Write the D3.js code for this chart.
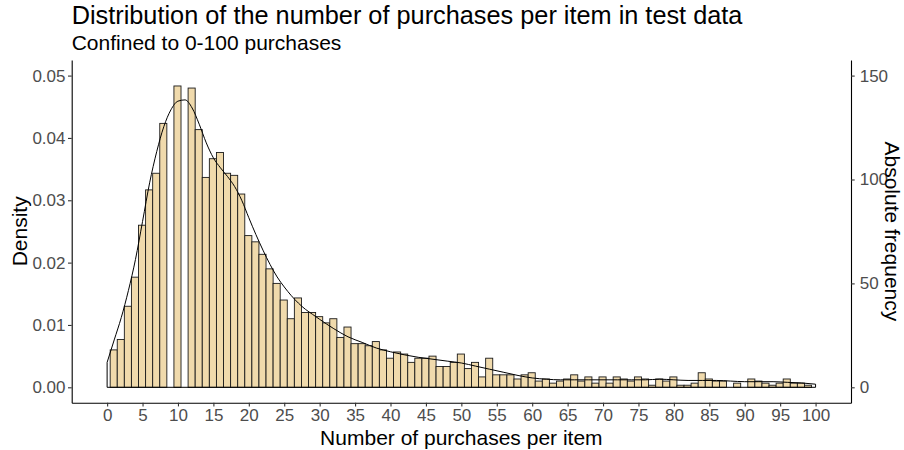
<!DOCTYPE html>
<html>
<head>
<meta charset="utf-8">
<script src="https://cdn.jsdelivr.net/npm/d3@7"></script>
<style>
  html, body { margin: 0; padding: 0; background: #fff; }
  svg { display: block; font-family: "Liberation Sans", Arial, Helvetica, sans-serif; }
</style>
</head>
<body>
<svg id="chart" width="904" height="450"></svg>
<script>
// Items per bin: bins of width 1 for 1..100 purchases
const firstBin = 1;
const counts = [
  18, 23, 39, 53, 78, 95, 103, 127, 0, 145,
  0, 144, 124, 101, 110, 113, 103, 102, 93, 73,
  70, 64, 57, 50, 42, 33, 43, 36, 36, 34,
  31, 33, 24, 29, 21, 21, 20, 22, 18, 14,
  17, 16, 12, 14, 14, 15, 10, 10, 12, 16,
  9, 12, 5, 14, 6, 6, 6, 4, 6, 7,
  3, 4, 2, 3, 4, 6, 3, 5, 2, 5,
  2, 5, 4, 3, 5, 4, 1, 4, 3, 5,
  1, 1, 2, 7, 4, 3, 3, 0, 2, 0,
  4, 3, 2, 1, 2, 4, 2, 2, 1, 0
];
// counts -> density (n * binwidth)
const densityScale = 3000;

// Kernel density estimate, sampled along the purchase axis
const kdeX = [0, 1, 2, 3, 4, 5, 6, 7, 8, 9, 10, 11, 12, 13, 14, 15, 16, 17, 18, 19,
  20, 21, 22, 23, 24, 25, 26, 27, 28, 29, 30, 32, 34, 36, 38, 40, 42, 44, 46, 48,
  50, 52, 54, 56, 58, 60, 62, 64, 66, 68, 70, 72, 74, 76, 78, 80, 82, 84, 86, 88,
  90, 92, 94, 96, 98, 100];
const kdeY = [0.0040, 0.0076, 0.0112, 0.0155, 0.0205, 0.0266, 0.0328, 0.0378, 0.0418, 0.0445,
  0.0459, 0.0461, 0.0448, 0.0422, 0.0392, 0.0368, 0.0352, 0.0338, 0.0322, 0.0300,
  0.0272, 0.0245, 0.0220, 0.0197, 0.0177, 0.0161, 0.0147, 0.0135, 0.0125, 0.0117,
  0.0109, 0.0094, 0.0081, 0.0072, 0.0063, 0.0057, 0.0052, 0.0048, 0.0045, 0.0042,
  0.0039, 0.0034, 0.0029, 0.0024, 0.0019, 0.0015, 0.0013, 0.0012, 0.0012, 0.0012,
  0.0012, 0.0012, 0.0012, 0.0012, 0.0013, 0.0012, 0.0011, 0.0011, 0.0011, 0.0010,
  0.0009, 0.0009, 0.0009, 0.0008, 0.0007, 0.0005];

const xTicks = [0, 5, 10, 15, 20, 25, 30, 35, 40, 45, 50, 55, 60, 65, 70, 75, 80, 85, 90, 95, 100];
const densityTicks = [0, 0.01, 0.02, 0.03, 0.04, 0.05];
const countTicks = [0, 50, 100, 150];

const titleText = "Distribution of the number of purchases per item in test data";
const subtitleText = "Confined to 0-100 purchases";
const xTitle = "Number of purchases per item";
const yTitle = "Density";
const y2Title = "Absolute frequency";

// ---- layout ----
const panel = { left: 71.7, right: 851, top: 60, bottom: 402.7 };
const svg = d3.select("#chart");

const x = d3.scaleLinear().domain([-5, 105]).range([panel.left, panel.right]);
const y = d3.scaleLinear().domain([-0.00247, 0.0525]).range([panel.bottom, panel.top]);
const y2 = d3.scaleLinear()
  .domain(y.domain().map(d => d * densityScale))
  .range([panel.bottom, panel.top]);

const bins = counts.map((c, i) => ({ mid: firstBin + i, density: c / densityScale }));

// histogram bars
svg.append("g")
  .selectAll("rect")
  .data(bins.filter(b => b.density > 0))
  .join("rect")
  .attr("x", d => x(d.mid - 0.57))
  .attr("width", d => x(d.mid + 0.43) - x(d.mid - 0.57))
  .attr("y", d => y(d.density))
  .attr("height", d => y(0) - y(d.density))
  .attr("fill", "#F0DAAC")
  .attr("stroke", "#1a1a1a")
  .attr("stroke-width", 0.9);

// density outline (closed down to the baseline)
const kde = kdeX.map((v, i) => [v, kdeY[i]]);
const curve = d3.line()
  .x(d => x(d[0]))
  .y(d => y(d[1]))
  .curve(d3.curveMonotoneX);
const upper = curve(kde);
const closed = upper +
  "L" + x(kdeX[kdeX.length - 1]) + "," + y(0) +
  "L" + x(kdeX[0]) + "," + y(0) + "Z";
svg.append("path")
  .attr("d", closed)
  .attr("fill", "none")
  .attr("stroke", "#000")
  .attr("stroke-width", 1);

// axes
const tickLen = 3.7;
const axisFont = 17;
const styleAxis = g => {
  g.selectAll(".domain").attr("stroke", "#000").attr("stroke-width", 1.1);
  g.selectAll(".tick line").attr("stroke", "#333").attr("stroke-width", 1.1);
  g.selectAll(".tick text")
    .attr("fill", "#4D4D4D")
    .style("font-size", axisFont + "px")
    .style("font-family", "'Liberation Sans', Arial, sans-serif");
};

svg.append("g")
  .attr("transform", `translate(0,${panel.bottom})`)
  .call(d3.axisBottom(x).tickValues(xTicks).tickFormat(d3.format("d"))
    .tickSizeInner(tickLen).tickSizeOuter(0).tickPadding(3))
  .call(styleAxis);

svg.append("g")
  .attr("transform", `translate(${panel.left},0)`)
  .call(d3.axisLeft(y).tickValues(densityTicks).tickFormat(d3.format(".2f"))
    .tickSizeInner(tickLen).tickSizeOuter(0).tickPadding(2.5))
  .call(styleAxis);

svg.append("g")
  .attr("transform", `translate(${panel.right},0)`)
  .call(d3.axisRight(y2).tickValues(countTicks).tickFormat(d3.format("d"))
    .tickSizeInner(tickLen).tickSizeOuter(0).tickPadding(5))
  .call(styleAxis);

// titles
svg.append("text")
  .attr("x", panel.left).attr("y", 24)
  .attr("fill", "#000")
  .style("font-size", "25.3px")
  .text(titleText);

svg.append("text")
  .attr("x", panel.left).attr("y", 49.5)
  .attr("fill", "#000")
  .style("font-size", "21px")
  .text(subtitleText);

svg.append("text")
  .attr("x", (panel.left + panel.right) / 2).attr("y", 444.5)
  .attr("text-anchor", "middle")
  .attr("fill", "#000")
  .style("font-size", "21px")
  .text(xTitle);

const midY = (panel.top + panel.bottom) / 2;
svg.append("text")
  .attr("transform", `translate(27,${midY}) rotate(-90)`)
  .attr("text-anchor", "middle")
  .attr("fill", "#000")
  .style("font-size", "21px")
  .text(yTitle);

svg.append("text")
  .attr("transform", `translate(884.5,${midY}) rotate(90)`)
  .attr("text-anchor", "middle")
  .attr("fill", "#000")
  .style("font-size", "21px")
  .text(y2Title);
</script>
</body>
</html>
